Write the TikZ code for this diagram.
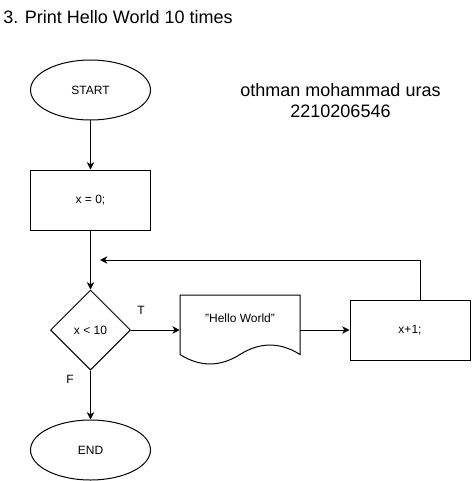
\documentclass[tikz,border=0pt]{standalone}
\usepackage{fontspec}
\setmainfont{Liberation Sans}
\usetikzlibrary{shapes.geometric,arrows.meta,calc}
\tikzset{
  base/.style={draw=black, line width=0.75pt, inner sep=0pt, font=\fontsize{9}{11}\selectfont, text=black},
  term/.style={base, ellipse, minimum width=90pt, minimum height=45pt},
  proc/.style={base, rectangle, minimum width=90pt, minimum height=45pt},
  decide/.style={base, diamond, aspect=1, minimum width=60pt, minimum height=60pt},
  flow/.style={line width=0.75pt, -{Stealth[length=5.5pt, width=5.5pt, inset=1.6pt]}},
  lbl/.style={font=\fontsize{9}{11}\selectfont, inner sep=0pt},
  big/.style={font=\fontsize{13.5}{15.75}\selectfont, inner sep=0pt, align=center}
}
\begin{document}
\begin{tikzpicture}[x=0.75pt, y=-0.75pt]
\useasboundingbox (0,0) rectangle (471,481);
% title and author
\node[big, anchor=west] (title) at (3,17) {3. Print Hello World 10 times};
\node[big] (author) at (340.5,100.5) {othman mohammad uras\\2210206546};
% nodes
\node[term] (start) at (90.5,90) {START};
\node[proc] (init) at (90.5,200) {x = 0;};
\node[decide] (dec) at (90.5,330) {x {\char"003C} 10};
\node[term] (stop) at (90.5,450) {END};
\node[proc] (inc) at (410,330) {x+1;};
% document shape
\node[inner sep=0pt, minimum width=90pt, minimum height=52.5pt] (doc) at (240,330) {};
\draw[line width=0.75pt] (180,295) -- (300,295) -- (300,354.5)
   .. controls (280,341.9) and (260,341.9) .. (240,354.5)
   .. controls (220,367.1) and (200,367.1) .. (180,354.5) -- cycle;
\node[lbl] (doctext) at (240,318) {{\char"0022}Hello World{\char"0022}};
% connectors
\coordinate (back) at (100,260);
\draw[flow] (start) -- (init);
\draw[flow] (init) -- (dec);
\draw[flow] (dec) -- (stop);
\draw[flow] (dec.east) -- (doc.west);
\draw[flow] (doc.east) -- (inc.west);
\draw[flow] ([xshift=7.5pt]inc.north) |- (back);
% labels
\node[lbl] (tlabel) at (141,310) {T};
\node[lbl] (flabel) at (70,379) {F};
\end{tikzpicture}
\end{document}
